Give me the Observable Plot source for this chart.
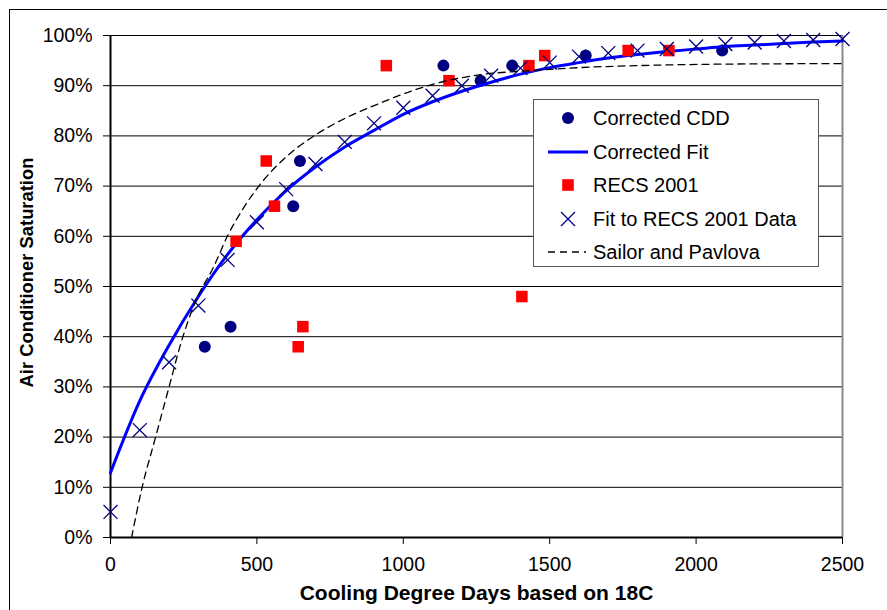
<!DOCTYPE html>
<html><head><meta charset="utf-8">
<script src="https://cdn.jsdelivr.net/npm/d3@7"></script>
<script src="https://cdn.jsdelivr.net/npm/@observablehq/plot@0.6"></script>
<style>
html,body{margin:0;padding:0;background:#fff;overflow:hidden;}
#wrap{position:relative;width:887px;height:610px;font-family:"Liberation Sans",Arial,sans-serif;}
#border{position:absolute;left:9px;top:9px;width:1000px;height:1000px;border:1px solid #000;box-sizing:border-box;pointer-events:none;}
#legend{position:absolute;left:533px;top:99px;width:286px;height:168px;border:1px solid #555;background:#fff;box-sizing:border-box;font-size:20px;color:#000;}
.row{position:absolute;left:0;height:30px;width:100%;}
.row svg{position:absolute;left:14px;top:0;}
.row span{position:absolute;left:59px;top:3px;line-height:24px;white-space:nowrap;}
</style></head>
<body>
<div id="wrap"></div>
<script>
// ---- data ----
const xTicks = [0, 500, 1000, 1500, 2000, 2500];
const yTicks = [0, 10, 20, 30, 40, 50, 60, 70, 80, 90, 100];
const xTitle = "Cooling Degree Days based on 18C";
const yTitle = "Air Conditioner Saturation";
const seriesNames = ["Corrected CDD", "Corrected Fit", "RECS 2001", "Fit to RECS 2001 Data", "Sailor and Pavlova"];

const cddX = [322, 410, 624, 647, 1137, 1264, 1372, 1623, 2089];
const cddY = [38, 42, 66, 75, 94, 91, 94, 96, 97];

const recsX = [429, 532, 560, 641, 657, 942, 1156, 1405, 1429, 1483, 1768, 1907];
const recsY = [59, 75, 66, 38, 42, 94, 91, 48, 94, 96, 97, 97];

const fitRecsX = [0, 100, 200, 300, 400, 500, 600, 700, 800, 900, 1000, 1100, 1200, 1300, 1400, 1500, 1600, 1700, 1800, 1900, 2000, 2100, 2200, 2300, 2400, 2500];
const fitRecsY = [5.1, 21.4, 34.9, 46.2, 55.3, 62.8, 69.4, 74.4, 78.8, 82.5, 85.6, 88.0, 90.0, 92.0, 93.5, 94.6, 95.8, 96.5, 97.0, 97.3, 97.8, 98.3, 98.6, 98.9, 99.1, 99.3];

const fitX = [0, 100, 200, 300, 400, 500, 600, 700, 800, 900, 1000, 1100, 1200, 1300, 1400, 1500, 1600, 1700, 1800, 1900, 2000, 2100, 2200, 2300, 2400, 2500];
const fitY = [12.9, 27.2, 38.3, 48.0, 56.4, 63.3, 69.1, 73.8, 77.8, 81.1, 84.3, 86.8, 88.9, 90.7, 92.3, 93.6, 94.6, 95.5, 96.2, 96.8, 97.3, 97.8, 98.1, 98.4, 98.7, 98.9];

const sailorX = [72, 108, 154, 200, 242, 290, 353, 399, 455, 512, 592, 706, 808, 911, 1036, 1150, 1264, 1434, 1600, 1800, 2100, 2500];
const sailorY = [0, 10, 20, 30, 39, 47, 54, 60, 65.7, 70.4, 75.4, 80.4, 83.7, 86.3, 89.1, 91.0, 92.2, 93.0, 93.6, 94.0, 94.3, 94.4];

// ---- build tables ----
const zip = (xs, ys) => xs.map((x, i) => ({x, y: ys[i]}));
const cdd = zip(cddX, cddY), recs = zip(recsX, recsY), fitRecs = zip(fitRecsX, fitRecsY), fit = zip(fitX, fitY), sailor = zip(sailorX, sailorY);
const xMax = xTicks[xTicks.length - 1], xMin = xTicks[0], yMin = yTicks[0];

const chart = Plot.plot({
  width: 887, height: 610,
  marginLeft: 110, marginRight: 45, marginTop: 35, marginBottom: 73,
  style: {fontFamily: '"Liberation Sans", Arial, sans-serif', fontSize: "19.5px", color: "#000", background: "transparent"},
  x: {domain: [xMin, xMax]},
  y: {domain: [yMin, yTicks[yTicks.length - 1]]},
  marks: [
    Plot.gridY(yTicks, {stroke: "#000", strokeOpacity: 1, strokeWidth: 1}),
    Plot.ruleX([xMax], {stroke: "#888", strokeWidth: 2}),
    Plot.axisY(yTicks, {tickFormat: d => d + "%", tickSize: 7, tickPadding: 11, label: null, stroke: "#000"}),
    Plot.axisX(xTicks, {tickFormat: d => String(d), tickSize: 7, tickPadding: 13, label: null, stroke: "#000"}),
    Plot.ruleY([yMin], {stroke: "#000", strokeWidth: 2}),
    Plot.ruleX([xMin], {stroke: "#000", strokeWidth: 2}),
    Plot.dot(cdd, {x: "x", y: "y", r: 6, fill: "#000080", stroke: null}),
    Plot.line(fit, {x: "x", y: "y", stroke: "#0000ff", strokeWidth: 3, curve: "monotone-x"}),
    Plot.dot(recs, {x: "x", y: "y", symbol: "square", r: 6.5, fill: "#ff0000", stroke: null}),
    Plot.dot(fitRecs, {x: "x", y: "y", symbol: "times", r: 6.4, stroke: "#000080", strokeWidth: 1.3}),
    Plot.line(sailor, {x: "x", y: "y", stroke: "#000", strokeWidth: 1.3, strokeDasharray: "7,5", curve: "monotone-x"}),
    Plot.text([yTitle], {text: d => d, frameAnchor: "left", textAnchor: "middle", rotate: -90, dx: -83, dy: -14, fontWeight: "bold", fontSize: 18.4}),
    Plot.text([xTitle], {text: d => d, frameAnchor: "bottom", textAnchor: "middle", dy: 62, fontWeight: "bold", fontSize: 21})
  ]
});
const wrap = document.getElementById("wrap");
wrap.appendChild(chart);

// ---- legend ----
const legend = document.createElement("div");
legend.id = "legend";
const rowTops = [3, 37, 70, 104, 137];
const symbols = [
  '<circle cx="20" cy="15" r="6" fill="#000080"/>',
  '<line x1="0" x2="40" y1="15" y2="15" stroke="#0000ff" stroke-width="3"/>',
  '<rect x="14.2" y="9.2" width="11.6" height="11.6" fill="#ff0000"/>',
  '<path d="M13,8L27,22M13,22L27,8" stroke="#000080" stroke-width="1.3"/>',
  '<line x1="0" x2="38" y1="15" y2="15" stroke="#000" stroke-width="1.5" stroke-dasharray="7,5"/>'
];
seriesNames.forEach((name, i) => {
  const row = document.createElement("div");
  row.className = "row";
  row.style.top = rowTops[i] + "px";
  row.innerHTML = `<svg width="42" height="30">${symbols[i]}</svg><span>${name}</span>`;
  legend.appendChild(row);
});
wrap.appendChild(legend);
const border = document.createElement("div");
border.id = "border";
wrap.appendChild(border);
</script>
</body></html>
